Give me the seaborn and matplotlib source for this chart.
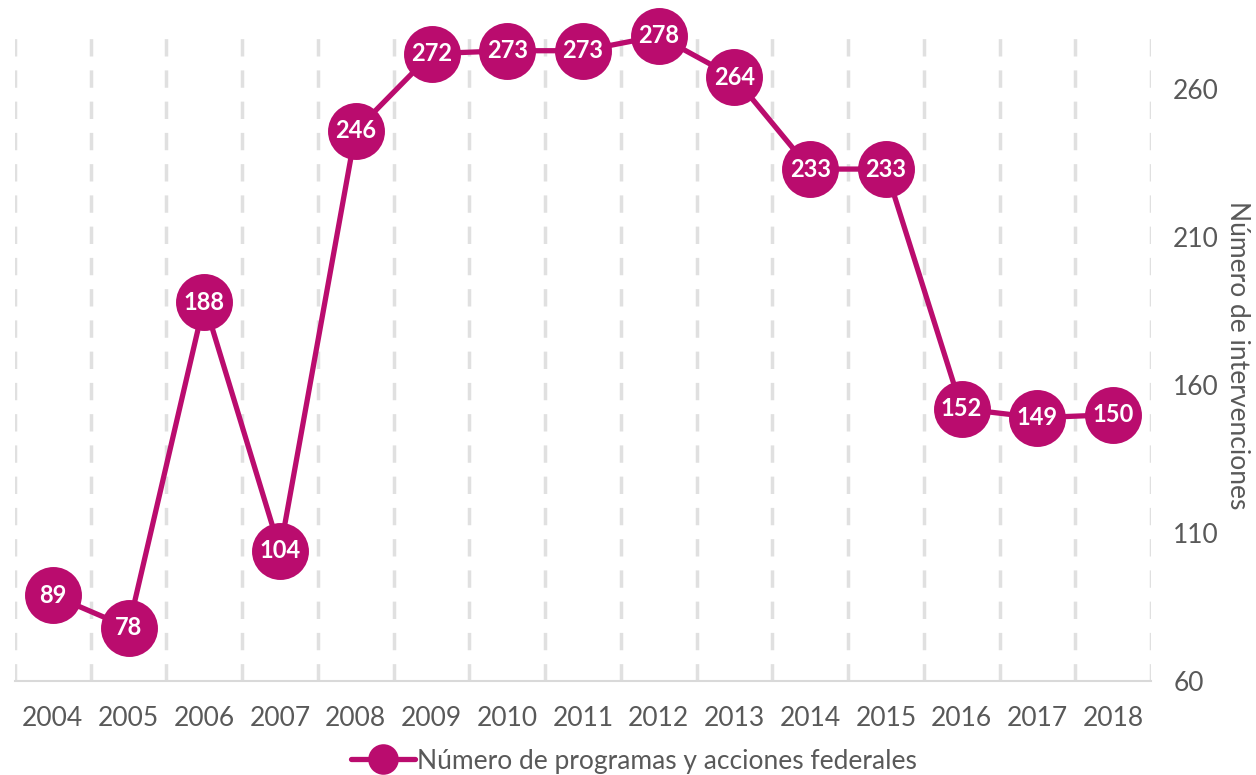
import matplotlib.pyplot as plt
import pandas as pd
import numpy as np
import seaborn as sns

years = ['2004', '2005', '2006', '2007', '2008', '2009', '2010', '2011',
         '2012', '2013', '2014', '2015', '2016', '2017', '2018']
programas = [89, 78, 188, 104, 246, 272, 273, 273, 278, 264, 233, 233, 152, 149, 150]
yticks = [60, 110, 160, 210, 260]

color = '#BA0C6E'
gray_txt = '#595959'

df = pd.DataFrame({'anio': years, 'n': programas})
df['x'] = np.arange(len(df))

sns.set_theme(style='white')
plt.rcParams['font.family'] = ['Lato', 'DejaVu Sans']

fig = plt.figure(figsize=(12.56, 7.75), dpi=100)
ax = fig.add_axes([15/1256, 1 - 681/775, (1151-15)/1256, (681-30)/775])

# lineas verticales discontinuas entre categorias
for b in np.arange(-0.5, len(years), 1.0):
    ax.axvline(b, color='#e0e0e0', lw=2.5, ls=(0, (5, 4)), zorder=0)

sns.lineplot(data=df, x='x', y='n', ax=ax, color=color, lw=3.8,
             marker='o', markersize=41, markeredgewidth=0,
             clip_on=False, legend=False)

for xi, v in zip(df['x'], df['n']):
    ax.text(xi, v, str(v), ha='center', va='center', color='white',
            fontsize=17, fontweight='bold', zorder=5, clip_on=False)

ax.set_xlim(-0.5, len(years) - 0.5)
ax.set_ylim(60, 280)
ax.set_xticks(df['x'])
ax.set_xticklabels(years)
ax.set_yticks(yticks)
ax.yaxis.tick_right()
ax.yaxis.set_label_position('right')
ax.tick_params(axis='both', length=0, labelsize=19, labelcolor=gray_txt)
ax.tick_params(axis='x', pad=18)
ax.tick_params(axis='y', pad=16)
ax.set_xlabel('')
ax.set_ylabel('Número de intervenciones', rotation=270, fontsize=19,
              color=gray_txt, labelpad=22)

for s in ['top', 'left', 'right']:
    ax.spines[s].set_visible(False)
ax.spines['bottom'].set_color('#d9d9d9')
ax.spines['bottom'].set_linewidth(1.5)

handle = plt.Line2D([], [], color=color, lw=3.8, marker='o', markersize=22,
                    markeredgewidth=0)
leg = fig.legend([handle], ['Número de programas y acciones federales'],
                 loc='center', bbox_to_anchor=(0.505, 0.018), frameon=False,
                 fontsize=19, handlelength=2.4, handletextpad=0.1,
                 borderpad=0, borderaxespad=0)
for t in leg.get_texts():
    t.set_color(gray_txt)

fig.savefig('out.png', dpi=100)
